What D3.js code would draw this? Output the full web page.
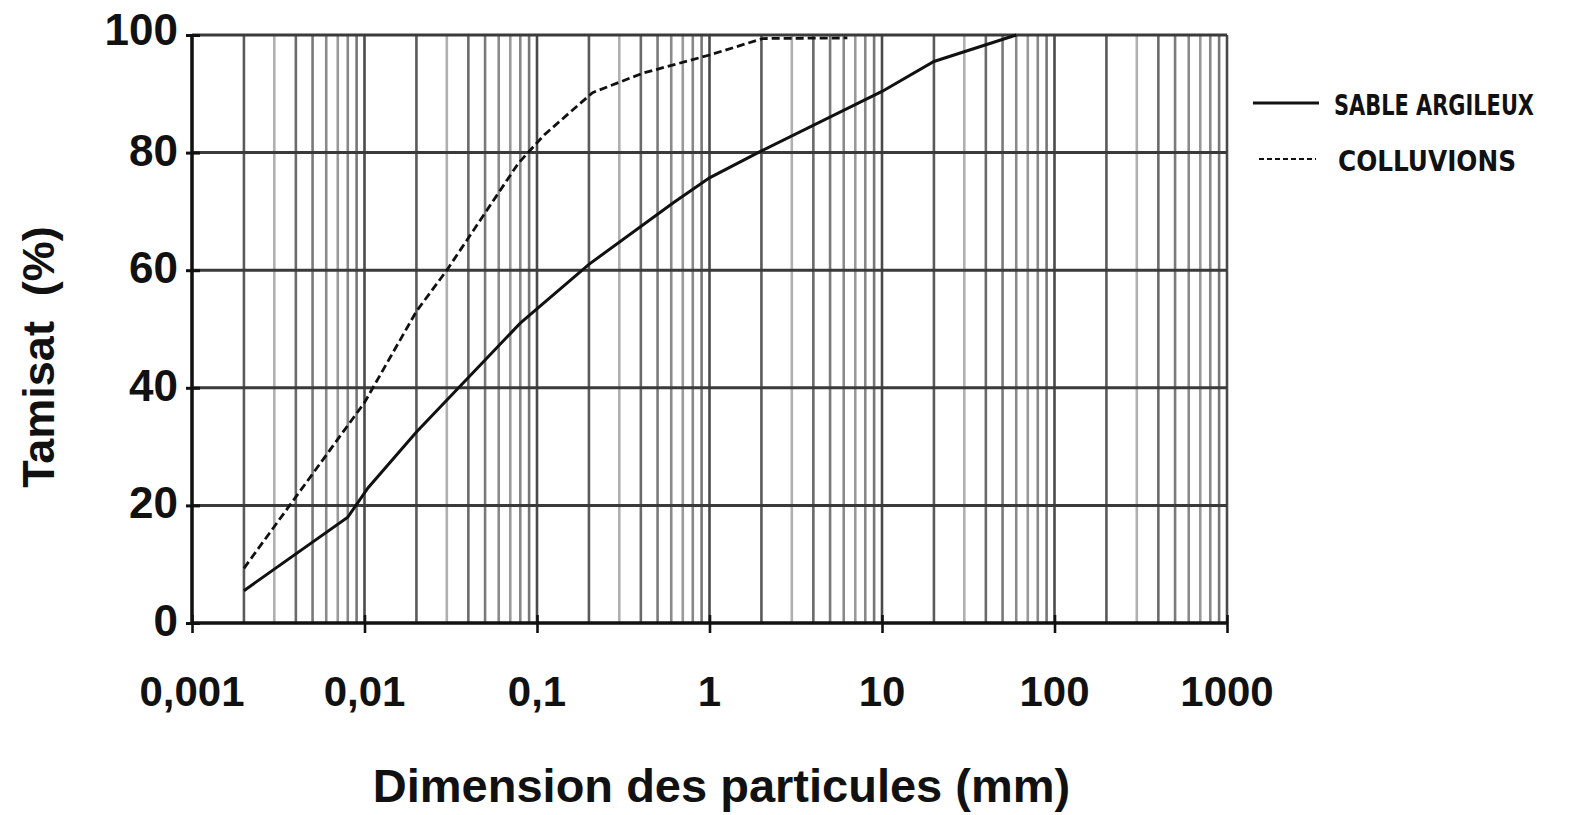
<!DOCTYPE html>
<head>
	<meta charset="utf-8">
	<title>Courbe granulometrique</title>
	<script src="https://d3js.org/d3.v7.min.js"></script>
	<style>
	body { margin:0; background:#fff; }
	.chartContainer { width:1575px; height:815px; }
	.tick-label { font-family:"Liberation Sans", Arial, sans-serif; font-weight:bold; font-size:42px; fill:#111; }
	.axis-title { font-family:"Liberation Sans", Arial, sans-serif; font-weight:bold; font-size:47px; fill:#111; }
	.legend-text { font-family:"DejaVu Sans Condensed", "Liberation Sans Narrow", sans-serif; font-weight:bold; font-size:23px; fill:#111; }
	.sableline { fill:none; stroke:#111; stroke-width:3px; }
	.colluvionsline { fill:none; stroke:#111; stroke-width:2.8px; stroke-dasharray:8,4; }
	</style>
</head>
<body>
<div class="chartContainer"></div>
<script>
	// data (diametre mm, tamisat %)
	var sableDiam    = [0.002, 0.008, 0.0105, 0.02, 0.08, 0.2, 0.62, 1, 2, 10, 20, 60];
	var sableTamisat = [5.5,   18,    23,     32.5, 51,   61,  71.5, 75.7, 80.3, 90.4, 95.5, 100];

	var colluvionsDiam    = [0.002, 0.01, 0.02, 0.03, 0.078, 0.11, 0.21, 0.41, 1, 2.04, 6.3];
	var colluvionsTamisat = [9.3,   37.5, 53,   60,   78.2,  83,   90.2, 93.5, 96.6, 99.4, 99.5];

	var xTicks = [0.001, 0.01, 0.1, 1, 10, 100, 1000];
	var xTickLabels = ["0,001", "0,01", "0,1", "1", "10", "100", "1000"];
	var yTicks = [0, 20, 40, 60, 80, 100];

	var legendLabels = ["SABLE ARGILEUX", "COLLUVIONS"];

	var totalWidth = 1575, totalHeight = 815;
	var margin = {top: 35, right: 348, bottom: 192, left: 192};
	var width = totalWidth - margin.left - margin.right,
		height = totalHeight - margin.top - margin.bottom;

	var svg = d3.select(".chartContainer").append("svg")
		.attr("width", totalWidth)
		.attr("height", totalHeight)
		.append("g")
		.attr("transform", "translate(" + margin.left + "," + margin.top + ")");

	var x = d3.scaleLog().domain([0.001, 1000]).range([0, width]);
	var y = d3.scaleLinear().domain([0, 100]).range([height, 0]);

	// minor grid: 1..9 in each decade, shades like the scanned paper
	var minorShade = {1:"#4a4a4a", 2:"#5a5a5a", 3:"#b0b0b0", 4:"#6a6a6a", 5:"#7a7a7a", 6:"#8a8a8a", 7:"#9a9a9a", 8:"#888", 9:"#777"};
	var gridVals = [];
	xTicks.forEach(function(d, i) {
		if (i == xTicks.length - 1) { gridVals.push({v:d, m:1}); return; }
		for (var m = 1; m < 10; m++) gridVals.push({v:d*m, m:m});
	});

	svg.append("g").attr("class", "vgrid")
		.selectAll("line").data(gridVals).enter().append("line")
		.attr("x1", function(d) { return x(d.v); })
		.attr("x2", function(d) { return x(d.v); })
		.attr("y1", 0).attr("y2", height)
		.attr("stroke", function(d) { return minorShade[d.m]; })
		.attr("stroke-width", 2.6);

	svg.append("g").attr("class", "hgrid")
		.selectAll("line").data(yTicks.slice(1)).enter().append("line")
		.attr("x1", 0).attr("x2", width)
		.attr("y1", function(d) { return y(d); })
		.attr("y2", function(d) { return y(d); })
		.attr("stroke", "#3a3a3a")
		.attr("stroke-width", 3);

	// axes
	var xAxis = d3.axisBottom(x).tickValues(xTicks).tickSize(10).tickFormat("");
	var yAxis = d3.axisLeft(y).tickValues(yTicks).tickSize(6).tickFormat("");

	var gx = svg.append("g").attr("class", "x-axis")
		.attr("transform", "translate(0," + height + ")")
		.call(xAxis);
	gx.select(".domain").attr("stroke", "#111").attr("stroke-width", 3.4).attr("d", "M0,0H" + width);
	gx.selectAll(".tick line").attr("stroke", "#111").attr("stroke-width", 2.6).attr("y1", -8);

	var gy = svg.append("g").attr("class", "y-axis").call(yAxis);
	gy.select(".domain").attr("stroke", "#111").attr("stroke-width", 3.4).attr("d", "M0," + height + "V0");
	gy.selectAll(".tick line").attr("stroke", "#111").attr("stroke-width", 3).attr("x2", 8).attr("x1", -6);

	svg.selectAll(".xlabel").data(xTicks).enter().append("text")
		.attr("class", "tick-label")
		.attr("x", function(d) { return x(d); })
		.attr("y", height + 83)
		.attr("text-anchor", "middle")
		.text(function(d, i) { return xTickLabels[i]; });

	svg.selectAll(".ylabel").data(yTicks).enter().append("text")
		.attr("class", "tick-label")
		.attr("x", -14)
		.attr("y", function(d) { return y(d) + (d == 100 ? 10 : 13); })
		.attr("text-anchor", "end")
		.style("font-size", "44px")
		.text(function(d) { return d; });

	svg.append("text").attr("class", "axis-title")
		.attr("x", x(1) + 12)
		.attr("y", height + 179)
		.attr("text-anchor", "middle")
		.text("Dimension des particules (mm)");

	svg.append("text").attr("class", "axis-title")
		.attr("transform", "translate(" + (-138) + "," + (y(50) + 28) + ") rotate(-90)")
		.attr("text-anchor", "middle")
		.style("font-size", "45px")
		.text("Tamisat\u00a0\u00a0(%)");

	// curves
	var line = d3.line()
		.x(function(d) { return x(d[0]); })
		.y(function(d) { return y(d[1]); });

	var sable = d3.zip(sableDiam, sableTamisat);
	var colluvions = d3.zip(colluvionsDiam, colluvionsTamisat);

	svg.append("path").attr("class", "colluvionsline").attr("d", line(colluvions));
	svg.append("path").attr("class", "sableline").attr("d", line(sable));

	// legend (hand written on the original)
	var legend = svg.append("g").attr("transform", "translate(" + (width + 26) + ",0)");
	legend.append("line").attr("class", "sableline")
		.attr("x1", 0).attr("x2", 66).attr("y1", 68).attr("y2", 68);
	legend.append("line").attr("class", "colluvionsline")
		.style("stroke-width", "2px").style("stroke-dasharray", "5,3")
		.attr("x1", 6).attr("x2", 63).attr("y1", 124).attr("y2", 124);
	legend.selectAll(".legend-text").data(legendLabels).enter().append("text")
		.attr("class", "legend-text")
		.attr("transform", function(d, i) {
			return "translate(" + (i ? 85 : 81) + "," + (i ? 136 : 80) + ") scale(1,1.25)";
		})
		.attr("textLength", function(d, i) { return i ? 178 : 200; })
		.attr("lengthAdjust", "spacingAndGlyphs")
		.text(function(d) { return d; });
</script>
</body>
</html>
